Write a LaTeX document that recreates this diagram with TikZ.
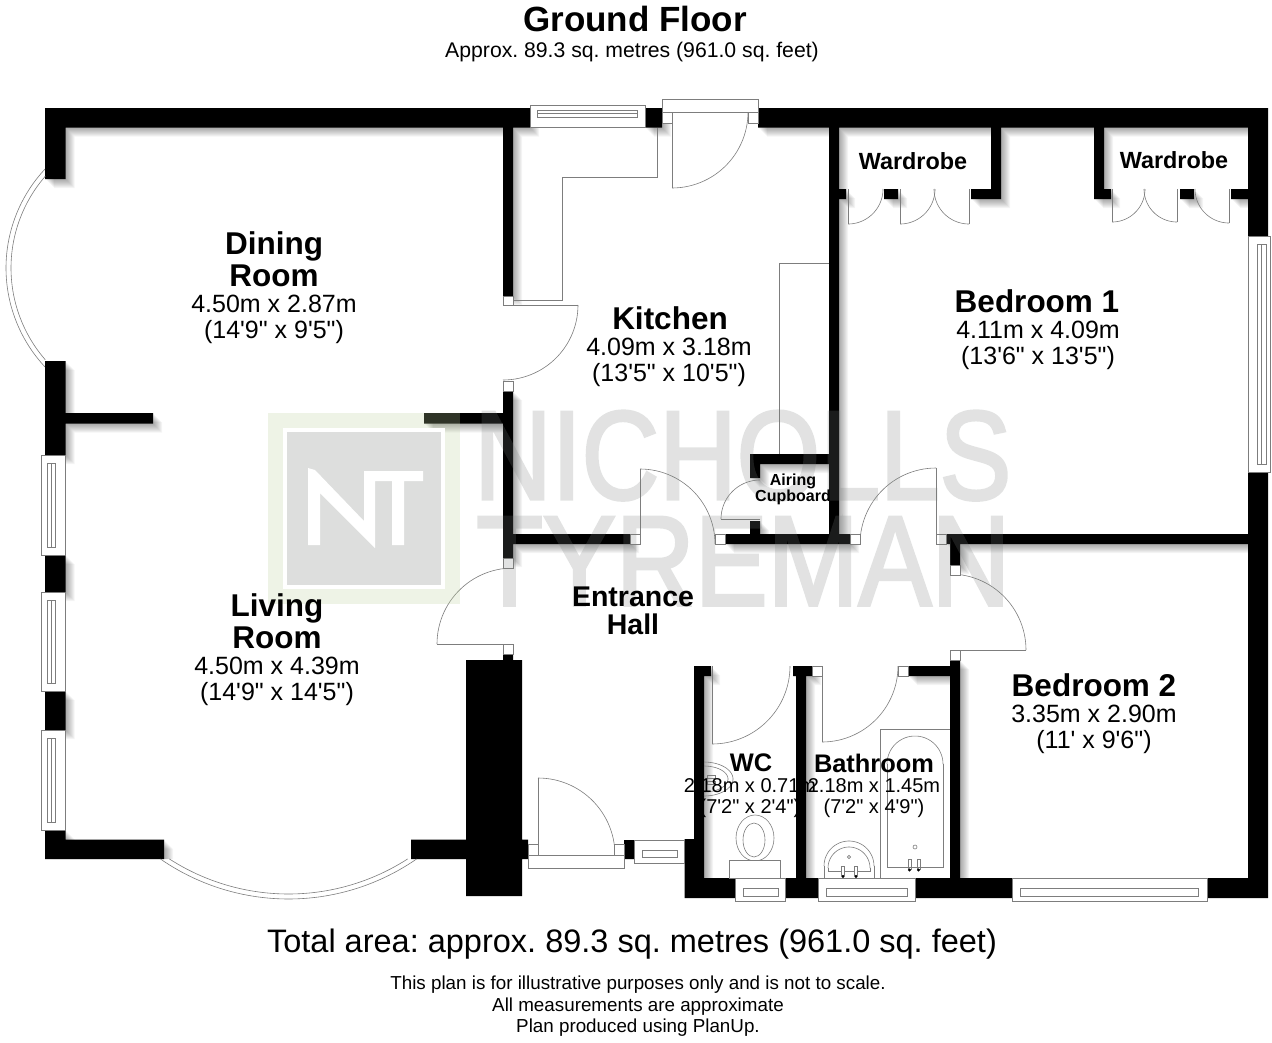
\documentclass[tikz,border=0pt]{standalone}
\usepackage{graphicx}
\usepackage{fontspec}
\setmainfont{Liberation Sans}[Ligatures=TeXOff]
\newfontfamily\wmfont{Liberation Sans}[FakeBold=2.5]
\definecolor{fixgray}{RGB}{125,125,125}
\definecolor{wmgray}{RGB}{121,125,123}
\definecolor{wmgreen}{RGB}{188,208,156}
\tikzset{
  wall/.style={fill=black},
  fixline/.style={draw=fixgray, line width=0.6pt},
  jamb/.style={draw=fixgray, line width=0.6pt, fill=white},
  wmtext/.style={text=wmgray, inner sep=0pt, anchor=south west, font=\wmfont},
  roomname/.style={font=\bfseries\fontsize{31.5}{32}\selectfont, align=center, inner sep=0pt},
  roomdim/.style={font=\fontsize{25}{25.8}\selectfont, align=center, inner sep=0pt},
  smallname/.style={font=\bfseries\fontsize{25.4}{26}\selectfont, align=center, inner sep=0pt},
  smalldim/.style={font=\fontsize{20}{20.5}\selectfont, align=center, inner sep=0pt},
  printed/.style={font=\fontsize{18.8}{21.5}\selectfont, align=center, inner sep=0pt},
}
\newcommand{\wallrects}{
  (45,108) rectangle (530,127.5) (645,108) rectangle (662,127.5) (758,108) rectangle (1268,127.5)
  (45,108) rectangle (65.5,179) (45,361) rectangle (65.5,455) (45,555) rectangle (65.5,592)
  (45,691) rectangle (65.5,730) (45,830) rectangle (65.5,859) (65,413) rectangle (153,423.5)
  (45,839.5) rectangle (164,859) (411,839.5) rectangle (466,859) (424,413) rectangle (503,423.5)
  (503,127) rectangle (513,296) (503,391) rectangle (513,558)
  (513,534) rectangle (630,544) (725,534) rectangle (850,544) (946,534) rectangle (1248,544)
  (829,127) rectangle (839,534) (750,454) rectangle (829,464) (750,454) rectangle (760,478)
  (750,521) rectangle (760,534) (991,127) rectangle (1001,199) (971,189) rectangle (1001,199)
  (884,189) rectangle (898,199) (839,189) rectangle (846,199) (1094,127) rectangle (1104,199)
  (1094,189) rectangle (1111,199) (1180,189) rectangle (1194,199) (1231,189) rectangle (1248,199)
  (1248,108) rectangle (1268,236) (1248,472) rectangle (1268,898)
  (684.5,878) rectangle (735,898) (785,878) rectangle (818,898) (915,878) rectangle (1012,898)
  (1207,878) rectangle (1268,898) (684.5,839) rectangle (704,878) (694,666) rectangle (704,839)
  (694,666) rectangle (711,676) (624,840) rectangle (634,859) (796,676) rectangle (806,878)
  (793,666) rectangle (812,676) (908,666) rectangle (950,676) (950,660) rectangle (960,878)
  (950,544) rectangle (960,565)
}
\begin{document}
\frenchspacing
\begin{tikzpicture}[x=1pt, y=-1pt]
\useasboundingbox (0,0) rectangle (1272,1042);
\begin{scope}
\clip (45,108) -- (1248,108) -- (1248,878) -- (684,878) -- (684,859) -- (45,859) -- cycle;
\foreach \d in {1,...,9} {
  \fill[black, opacity=0.045, shift={(\d,\d)}] \wallrects;
}
\end{scope}
\fill[wall] \wallrects;
\fill[wall] (466,660) rectangle (522,896) (503,654) rectangle (513,660) (522,839.5) rectangle (528,859);
\draw[fixline, domain=137:223, samples=50] plot ({151+145*cos(\x)},{268+145*sin(\x)});
\draw[fixline, domain=139:221, samples=50] plot ({151+140*cos(\x)},{268+140*sin(\x)});
\draw[fixline, domain=55.3:124.7, samples=50] plot ({288.5+225*cos(\x)},{674+225*sin(\x)});
\draw[fixline, domain=57.2:122.8, samples=50] plot ({288.5+220*cos(\x)},{674+220*sin(\x)});
\foreach \cx/\cy/\rad/\a/\b/\l in {
  503/305/75/0/90/0, 513/644/76/180/270/180, 640/544/75/270/360/270, 760/519/39/180/270/180,
  936/544/76/180/270/270, 950/650/76/270/360/360, 712/666/78/0/90/90, 822/666/76/0/90/90,
  672/112/76/0/90/90, 538/855/77/270/360/270, 848/189/35/0/90/90, 900/189/35/0/90/90,
  969/189/35/90/180/90, 1112/189/33/0/90/90, 1177/189/33/90/180/90, 1229/189/34/90/180/90} {
  \draw[fixline, domain=\a:\b, samples=30] plot ({\cx+\rad*cos(\x)},{\cy+\rad*sin(\x)});
  \draw[fixline] (\cx,\cy) -- ({\cx+\rad*cos(\l)},{\cy+\rad*sin(\l)});
}
\foreach \xa/\ya/\xb/\yb/\xc/\yc/\xd/\yd in {
  530/105/645/127.5/537/110/637/117, 41.5/455/65.5/555/47/463/55/547,
  41.5/592/65.5/691/47/600/55/683, 41.5/730/65.5/830/47/738/55/822,
  1248/236/1270.5/472/1257/244/1266/464, 735/878/785.5/901.5/743/888/778/896,
  818/878/915/901.5/826/888/907/896, 1012/878/1207/901.5/1020/888/1198/896,
  634/840/684.5/863/642/850/677/857} {
  \draw[jamb] (\xa,\ya) rectangle (\xb,\yb);
  \draw[fixline] (\xc,\yc) rectangle (\xd,\yd);
}
\draw[fixline] (537,113.5) -- (637,113.5) (51,463) -- (51,547) (51,600) -- (51,683) (51,738) -- (51,822)
  (1261.5,244) -- (1261.5,464);
\foreach \xa/\ya/\xb/\yb in {
  503/296/513/305, 503/381/513/391, 503/558/513/568, 503/644/513/654, 630/534/640/544,
  715/534/725/544, 850/534/860/544, 936/534/946/544, 950/565/960/575, 950/650/960/660,
  812/666/822/676, 898/666/908/676, 662/99/758/112, 662/112/672/123, 748/112/758/123,
  528/855/624/868, 528/844/538/855, 614/844/624/855} {
  \draw[jamb] (\xa,\ya) rectangle (\xb,\yb);
}
\draw[fixline] (513,300) -- (562,300) -- (562,177) -- (657,177) -- (657,127.5);
\draw[fixline] (829,263) -- (779,263) -- (779,454);
\draw[fixline] (755,838) ellipse (19 and 23);
\draw[fixline] (754,840) ellipse (11 and 17);
\draw[jamb] (729,860) rectangle (780,878);
\draw[fixline, domain=-90:90, samples=30] plot ({704+29*cos(\x)},{779+17*sin(\x)});
\draw[fixline, domain=-90:90, samples=30] plot ({704+24*cos(\x)},{779+13*sin(\x)});
\draw[fixline] (707,775) rectangle (715,778) (707,781) rectangle (715,784);
\draw[fixline] (880,878) -- (880,729) -- (950,729);
\draw[fixline, domain=180:360, samples=30] plot ({915+28*cos(\x)},{764+28*sin(\x)});
\draw[fixline] (887,764) -- (887,867) -- (943,867) -- (943,764);
\draw[fixline] (915,847) circle (2);
\draw[fixline] (908,859) rectangle (911,869) (917,859) rectangle (920,869);
\fill (909.5,870) circle (1.6) (918.5,870) circle (1.6);
\draw[fixline, domain=180:360, samples=30] plot ({849+25*cos(\x)},{866+25*sin(\x)});
\draw[fixline] (824,866) -- (824,878) (874,866) -- (874,878);
\draw[fixline, domain=180:360, samples=30] plot ({849+21*cos(\x)},{868+21*sin(\x)});
\draw[fixline] (828,868) -- (828,871) -- (870,871) -- (870,868);
\draw[fixline] (849,857) circle (1.6);
\draw[jamb] (841.5,866) rectangle (844.5,875) (854.5,866) rectangle (857.5,875);
\fill (843,876.5) circle (1.6) (856,876.5) circle (1.6);
\fill[wmgreen, opacity=0.25] (268,413) rectangle (460,604);
\fill[white] (283,428) rectangle (445,589);
\fill[wmgray, opacity=0.25] (287,432) rectangle (441,585);
\fill[white] (308,468) -- (315,470) -- (364,521) -- (364,471) -- (423,471) -- (423,481) -- (404,481)
  -- (404,545) -- (392,545) -- (392,481) -- (375,481) -- (375,548) -- (320,493) -- (320,545) -- (308,545) -- cycle;
\begin{scope}[transparency group, opacity=0.22]
\node[wmtext] (wmnicholls) at (474,500.5) {\resizebox{537pt}{88pt}{NICHOLLS}};
\node[wmtext] (wmtyreman) at (476,605.5) {\resizebox{534pt}{88pt}{TYREMAN}};
\end{scope}
\node[inner sep=0pt, font=\bfseries\fontsize{35}{36}\selectfont] (title) at (635,19) {Ground Floor};
\node[inner sep=0pt, font=\fontsize{21.2}{22}\selectfont] (subtitle) at (632,52.5) {Approx. 89.3 sq. metres (961.0 sq. feet)};
\node[roomname] (dining) at (274,259) {Dining\\Room};
\node[roomdim] (diningdim) at (274,319.5) {4.50m x 2.87m\\(14'9" x 9'5")};
\node[roomname] (kitchen) at (670,318) {Kitchen};
\node[roomdim] (kitchendim) at (669,362.5) {4.09m x 3.18m\\(13'5" x 10'5")};
\node[roomname] (bedone) at (1037,301) {Bedroom 1};
\node[roomdim] (bedonedim) at (1038,345.5) {4.11m x 4.09m\\(13'6" x 13'5")};
\node[roomname] (living) at (277,621) {Living\\Room};
\node[roomdim] (livingdim) at (277,681.5) {4.50m x 4.39m\\(14'9" x 14'5")};
\node[roomname] (bedtwo) at (1094,685) {Bedroom 2};
\node[roomdim] (bedtwodim) at (1094,729.5) {3.35m x 2.90m\\(11' x 9'6")};
\node[inner sep=0pt, align=center, font=\bfseries\fontsize{28.5}{28}\selectfont] (hall) at (633,611) {Entrance\\Hall};
\node[inner sep=0pt, font=\bfseries\fontsize{23.4}{24}\selectfont] (wardrobeone) at (913,161) {Wardrobe};
\node[inner sep=0pt, font=\bfseries\fontsize{23.4}{24}\selectfont] (wardrobetwo) at (1174,160) {Wardrobe};
\node[inner sep=0pt, align=center, font=\bfseries\fontsize{16}{16}\selectfont] (airing) at (793,489) {Airing\\Cupboard};
\node[smallname] (wc) at (751,763) {WC};
\node[smalldim] (wcdim) at (750,798) {2.18m x 0.71m\\(7'2" x 2'4")};
\node[smallname] (bathroom) at (874,763) {Bathroom};
\node[smalldim] (bathroomdim) at (874,798) {2.18m x 1.45m\\(7'2" x 4'9")};
\node[inner sep=0pt, font=\fontsize{32.5}{33}\selectfont] (total) at (632,944) {Total area: approx. 89.3 sq. metres (961.0 sq. feet)};
\node[printed] (note) at (638,1006.5) {This plan is for illustrative purposes only and is not to scale.\\All measurements are approximate\\Plan produced using PlanUp.};
\end{tikzpicture}
\end{document}
